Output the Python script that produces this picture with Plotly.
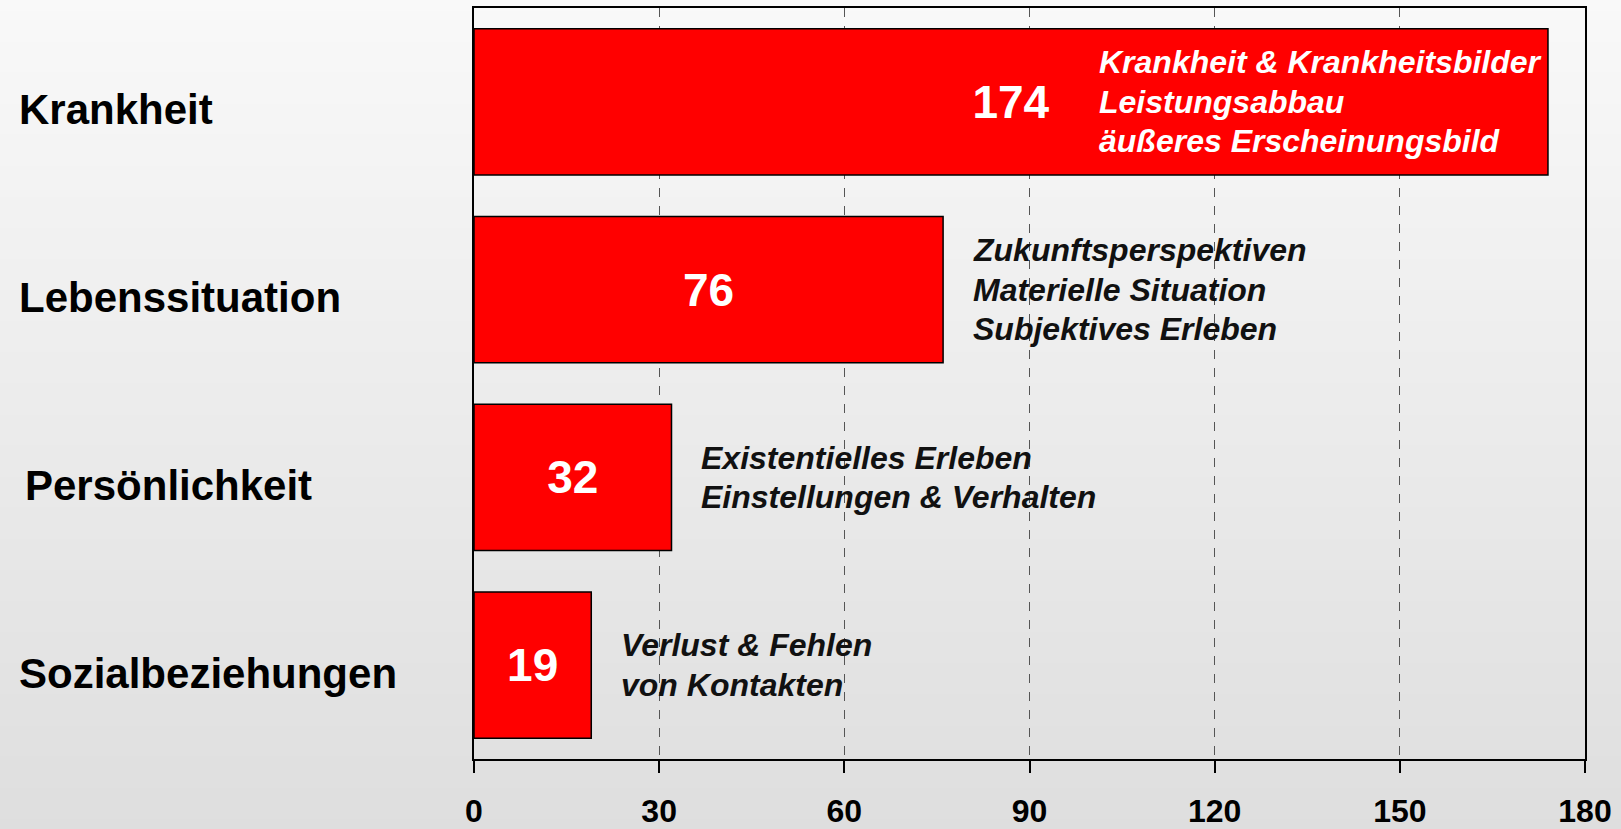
import plotly.graph_objects as go

categories = ["Krankheit", "Lebenssituation", "Persönlichkeit", "Sozialbeziehungen"]
values = [174, 76, 32, 19]
descriptions = [
    ["Krankheit & Krankheitsbilder", "Leistungsabbau", "äußeres Erscheinungsbild"],
    ["Zukunftsperspektiven", "Materielle Situation", "Subjektives Erleben"],
    ["Existentielles Erleben", "Einstellungen & Verhalten"],
    ["Verlust & Fehlen", "von Kontakten"],
]
tick_values = [0, 30, 60, 90, 120, 150, 180]

W, H = 1621, 829
ML, MR, MT, MB = 474, 36, 8, 70
PW, PH = W - ML - MR, H - MT - MB
LINE_H = 39.5

fig = go.Figure()
fig.add_trace(go.Bar(
    y=categories, x=values, orientation="h",
    marker=dict(color="#ff0000", line=dict(color="#000000", width=1.5)),
    text=[str(v) for v in values],
    textposition="inside", insidetextanchor="middle", textangle=0,
    constraintext="none",
    textfont=dict(family="Liberation Sans Narrow, Liberation Sans", size=46,
                  color="white", weight="bold"),
    hoverinfo="skip",
))

# background gradient
shapes = []
N = 80
top = (249, 249, 249)
bot = (222, 222, 222)
y_top = 1 + MT / PH
y_bot = -MB / PH
for i in range(N):
    t0 = i / N
    t1 = (i + 1) / N
    c = tuple(int(round(top[k] + (bot[k] - top[k]) * (t0 + t1) / 2)) for k in range(3))
    shapes.append(dict(
        type="rect", xref="paper", yref="paper", layer="below",
        x0=-ML / PW - 0.01, x1=1 + MR / PW + 0.01,
        y0=y_top - (y_top - y_bot) * t1 - 0.002, y1=y_top - (y_top - y_bot) * t0 + (0.01 if i == 0 else 0),
        fillcolor="rgb(%d,%d,%d)" % c, line=dict(width=0),
    ))

annotations = []
# category labels, left aligned
label_px = [17, 17, 23, 17]
for cat, px in zip(categories, label_px):
    annotations.append(dict(
        x=-(ML - px) / PW, xref="paper", y=cat, yref="y",
        text=cat, showarrow=False, xanchor="left", yanchor="middle", yshift=-8,
        font=dict(family="Liberation Sans, Arial", size=42, color="#000000", weight="bold"),
    ))
# descriptions, one annotation per line
for i, (cat, v, d) in enumerate(zip(categories, values, descriptions)):
    inside = i == 0
    n = len(d)
    for j, line in enumerate(d):
        annotations.append(dict(
            x=101 if inside else v + 4.5, xref="x", y=cat, yref="y",
            yshift=-(j - (n - 1) / 2) * LINE_H,
            text=line, showarrow=False, xanchor="left", yanchor="middle",
            align="left",
            font=dict(family="Liberation Sans, Arial", size=32,
                      color="white" if inside else "#111111", weight="bold", style="italic"),
        ))

fig.update_layout(
    width=W, height=H,
    margin=dict(l=ML, r=MR, t=MT, b=MB, pad=0, autoexpand=False),
    paper_bgcolor="rgb(222,222,222)", plot_bgcolor="rgba(0,0,0,0)",
    bargap=0.22, showlegend=False,
    shapes=shapes, annotations=annotations,
    xaxis=dict(
        range=[0, 180], tickvals=tick_values, ticktext=[str(t) for t in tick_values],
        showgrid=True, gridcolor="#555555", gridwidth=1, griddash="dash",
        showline=True, linecolor="#000000", linewidth=2, mirror=True,
        ticks="outside", ticklen=12, tickwidth=2, tickcolor="#000000",
        ticklabelstandoff=11, automargin=False,
        tickfont=dict(family="Liberation Sans Narrow, Liberation Sans", size=32,
                      color="#000000", weight="bold"),
        zeroline=False, fixedrange=True,
    ),
    yaxis=dict(
        categoryorder="array", categoryarray=categories, autorange="reversed",
        showticklabels=False, showgrid=False, showline=True, linecolor="#000000",
        linewidth=2, mirror=True, ticks="", zeroline=False, fixedrange=True,
        automargin=False,
    ),
)

fig.write_html("out.html", config={"displayModeBar": False},
               post_script="document.body.style.margin='0';document.body.style.overflow='hidden';")
